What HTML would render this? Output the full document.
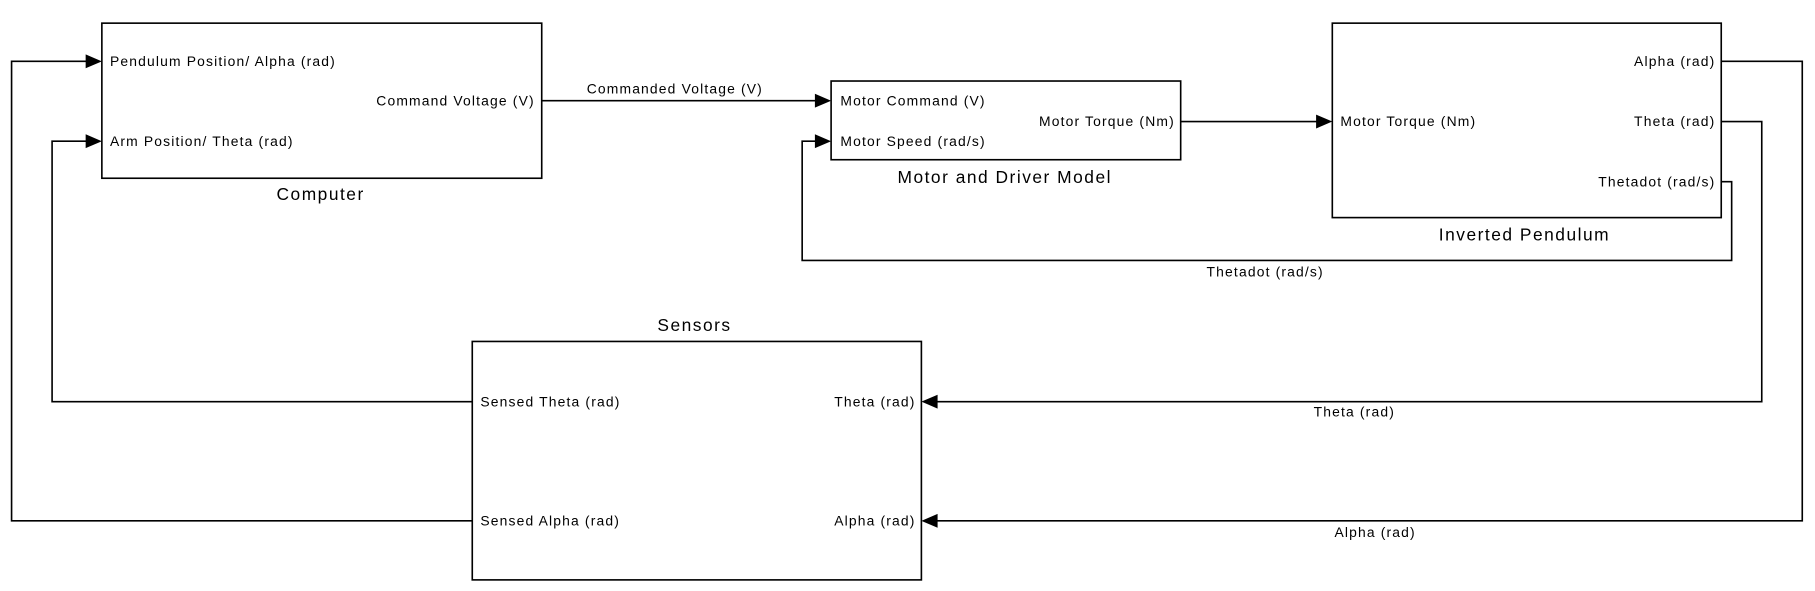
<!DOCTYPE html>
<html><head><style>html,body{margin:0;padding:0;background:#fff;}svg{display:block}</style></head>
<body>
<svg width="1815" height="591" viewBox="0 0 1568 510.6" preserveAspectRatio="none" xmlns="http://www.w3.org/2000/svg" font-family="Liberation Sans, sans-serif">
<g fill="none" stroke="#000" stroke-width="1.4">
<rect x="88" y="20" width="380" height="134"/>
<rect x="718" y="70" width="302" height="68"/>
<rect x="1151" y="20" width="336" height="168"/>
<rect x="408" y="295" width="388" height="206"/>
<polyline points="468,87 706,87"/>
<polyline points="1020,105 1139,105"/>
<polyline points="1487,157 1496,157 1496,225 693,225 693,122 706,122"/>
<polyline points="1487,105 1522,105 1522,347 809,347"/>
<polyline points="1487,53 1557,53 1557,450 809,450"/>
<polyline points="408,347 45,347 45,122 76,122"/>
<polyline points="408,450 10,450 10,53 76,53"/>
</g>
<g fill="#000">
<polygon points="74,47 88,53 74,59"/>
<polygon points="74,116 88,122 74,128"/>
<polygon points="704,81 718,87 704,93"/>
<polygon points="704,116 718,122 704,128"/>
<polygon points="1137,99 1151,105 1137,111"/>
<polygon points="810,341 796,347 810,353"/>
<polygon points="810,444 796,450 810,456"/>
</g>
<g font-size="12" fill="#000" letter-spacing="1">
<text x="95" y="57">Pendulum Position/ Alpha (rad)</text>
<text x="95" y="126">Arm Position/ Theta (rad)</text>
<text x="462" y="91" text-anchor="end">Command Voltage (V)</text>
<text x="583" y="81" text-anchor="middle">Commanded Voltage (V)</text>
<text x="726" y="91">Motor Command (V)</text>
<text x="726" y="126">Motor Speed (rad/s)</text>
<text x="1015" y="109" text-anchor="end">Motor Torque (Nm)</text>
<text x="1158" y="109">Motor Torque (Nm)</text>
<text x="1482" y="57" text-anchor="end">Alpha (rad)</text>
<text x="1482" y="109" text-anchor="end">Theta (rad)</text>
<text x="1482" y="161" text-anchor="end">Thetadot (rad/s)</text>
<text x="1093" y="239" text-anchor="middle">Thetadot (rad/s)</text>
<text x="1170" y="360" text-anchor="middle">Theta (rad)</text>
<text x="1188" y="464" text-anchor="middle">Alpha (rad)</text>
<text x="415" y="351">Sensed Theta (rad)</text>
<text x="415" y="454">Sensed Alpha (rad)</text>
<text x="791" y="351" text-anchor="end">Theta (rad)</text>
<text x="791" y="454" text-anchor="end">Alpha (rad)</text>
</g>
<g font-size="15" fill="#000" text-anchor="middle" letter-spacing="1.3">
<text x="277" y="173">Computer</text>
<text x="868" y="158">Motor and Driver Model</text>
<text x="1317" y="208">Inverted Pendulum</text>
<text x="600" y="286">Sensors</text>
</g>
</svg>
</body></html>
